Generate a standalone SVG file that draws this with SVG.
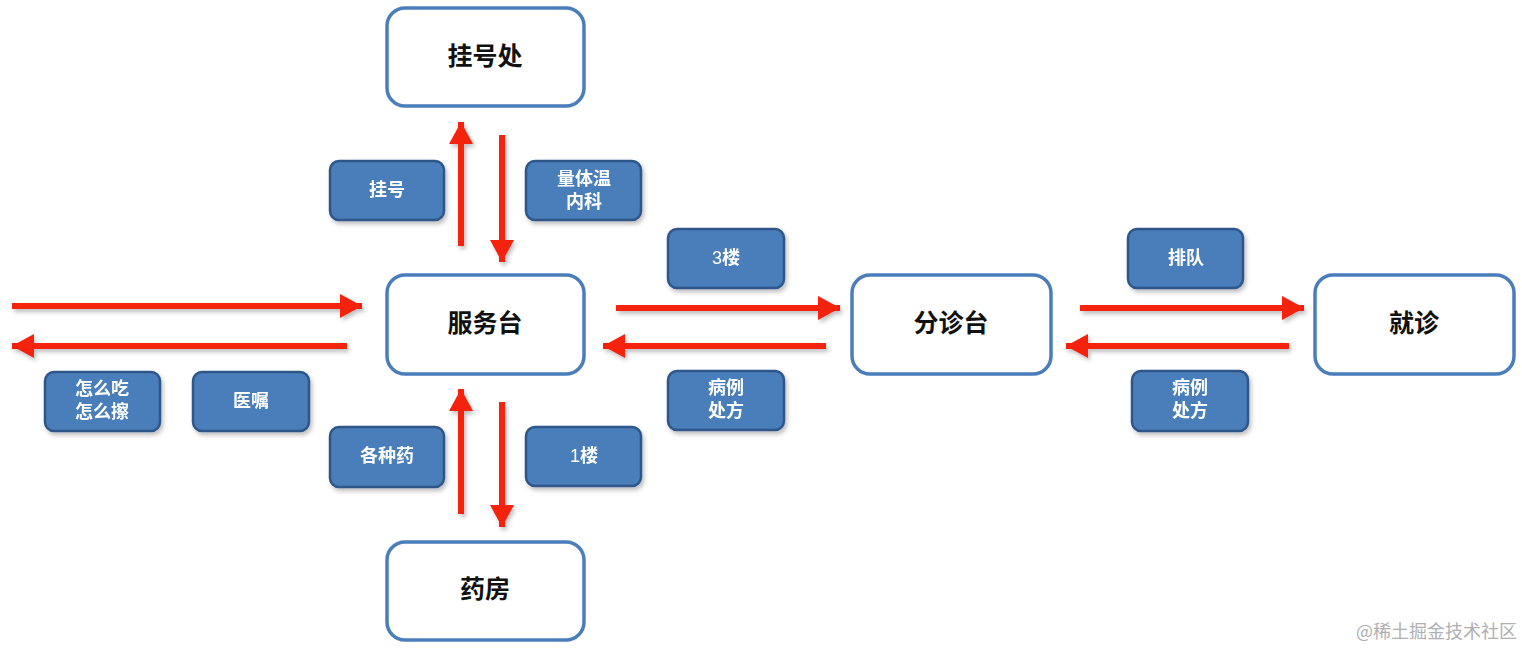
<svg xmlns="http://www.w3.org/2000/svg" width="1522" height="648" viewBox="0 0 1522 648">
<style>
.node{fill:#ffffff;stroke:#4a7ebb;stroke-width:3.5}
.nt{font-family:"Liberation Sans","Noto Sans CJK SC",sans-serif;font-size:25px;font-weight:bold;fill:#111111;text-anchor:middle;dominant-baseline:central}
.lab{fill:#4a7ebb;stroke:#2f5688;stroke-width:2.5}
.lt{font-family:"Liberation Sans","Noto Sans CJK SC",sans-serif;font-size:18px;font-weight:bold;fill:#ffffff;text-anchor:middle;dominant-baseline:central}
.arr{stroke:#f5200f;stroke-width:6;fill:none;marker-end:url(#ah)}
.wm{font-family:"Noto Sans CJK SC",sans-serif;font-size:18px;fill:#b0b0b0}
</style>
<defs>
<marker id="ah" markerUnits="userSpaceOnUse" markerWidth="26" markerHeight="26" viewBox="0 0 26 26" refX="24" refY="13" orient="auto">
<path d="M2,1 L24,13 L2,25 Z" fill="#f5200f"/>
</marker>
<filter id="sh" x="-20%" y="-20%" width="140%" height="160%">
<feDropShadow dx="2" dy="3" stdDeviation="2" flood-color="#000" flood-opacity="0.25"/>
</filter>
</defs>
<rect width="1522" height="648" fill="#ffffff"/>
<g id="connectors" filter="url(#sh)">
<line class="arr" x1="461" y1="246" x2="461" y2="122"/>
<line class="arr" x1="502" y1="135" x2="502" y2="262"/>
<line class="arr" x1="12" y1="306" x2="362" y2="306"/>
<line class="arr" x1="347" y1="346" x2="12" y2="346"/>
<line class="arr" x1="616" y1="308" x2="840" y2="308"/>
<line class="arr" x1="826" y1="346" x2="603" y2="346"/>
<line class="arr" x1="1080" y1="308" x2="1304" y2="308"/>
<line class="arr" x1="1289" y1="346" x2="1066" y2="346"/>
<line class="arr" x1="461" y1="514" x2="461" y2="389"/>
<line class="arr" x1="502" y1="402" x2="502" y2="527"/>
</g>
<g id="node-guahaochu"><rect class="node" x="387" y="8" width="197" height="98" rx="18"/><text class="nt" x="485" y="56">挂号处</text></g>
<g id="node-fuwutai"><rect class="node" x="387" y="275" width="197" height="99" rx="18"/><text class="nt" x="485" y="323">服务台</text></g>
<g id="node-yaofang"><rect class="node" x="387" y="542" width="197" height="98" rx="18"/><text class="nt" x="485" y="589">药房</text></g>
<g id="node-fenzhentai"><rect class="node" x="852" y="275" width="199" height="99" rx="18"/><text class="nt" x="951" y="323">分诊台</text></g>
<g id="node-jiuzhen"><rect class="node" x="1315" y="275" width="199" height="99" rx="18"/><text class="nt" x="1414" y="323">就诊</text></g>
<g id="label-guahao" filter="url(#sh)"><rect class="lab" x="330" y="161" width="114" height="59" rx="9"/><text class="lt" x="387" y="190">挂号</text></g>
<g id="label-liangtiwen" filter="url(#sh)"><rect class="lab" x="526" y="161" width="115" height="59" rx="9"/><text class="lt" x="584" y="179">量体温</text><text class="lt" x="584" y="202">内科</text></g>
<g id="label-3lou" filter="url(#sh)"><rect class="lab" x="668" y="229" width="116" height="59" rx="9"/><text class="lt" x="726" y="258"><tspan font-weight="normal">3</tspan>楼</text></g>
<g id="label-paidui" filter="url(#sh)"><rect class="lab" x="1128" y="229" width="115" height="59" rx="9"/><text class="lt" x="1186" y="258">排队</text></g>
<g id="label-zenmechi" filter="url(#sh)"><rect class="lab" x="45" y="372" width="115" height="59" rx="9"/><text class="lt" x="102" y="389">怎么吃</text><text class="lt" x="102" y="412">怎么擦</text></g>
<g id="label-yizhu" filter="url(#sh)"><rect class="lab" x="193" y="372" width="116" height="59" rx="9"/><text class="lt" x="251" y="401">医嘱</text></g>
<g id="label-bingli1" filter="url(#sh)"><rect class="lab" x="668" y="371" width="116" height="59" rx="9"/><text class="lt" x="726" y="388">病例</text><text class="lt" x="726" y="411">处方</text></g>
<g id="label-bingli2" filter="url(#sh)"><rect class="lab" x="1132" y="371" width="116" height="60" rx="9"/><text class="lt" x="1190" y="388">病例</text><text class="lt" x="1190" y="411">处方</text></g>
<g id="label-gezhongyao" filter="url(#sh)"><rect class="lab" x="330" y="427" width="114" height="60" rx="9"/><text class="lt" x="387" y="456">各种药</text></g>
<g id="label-1lou" filter="url(#sh)"><rect class="lab" x="526" y="427" width="115" height="59" rx="9"/><text class="lt" x="584" y="456"><tspan font-weight="normal">1</tspan>楼</text></g>
<text class="wm" x="1356" y="638">@稀土掘金技术社区</text>
</svg>
